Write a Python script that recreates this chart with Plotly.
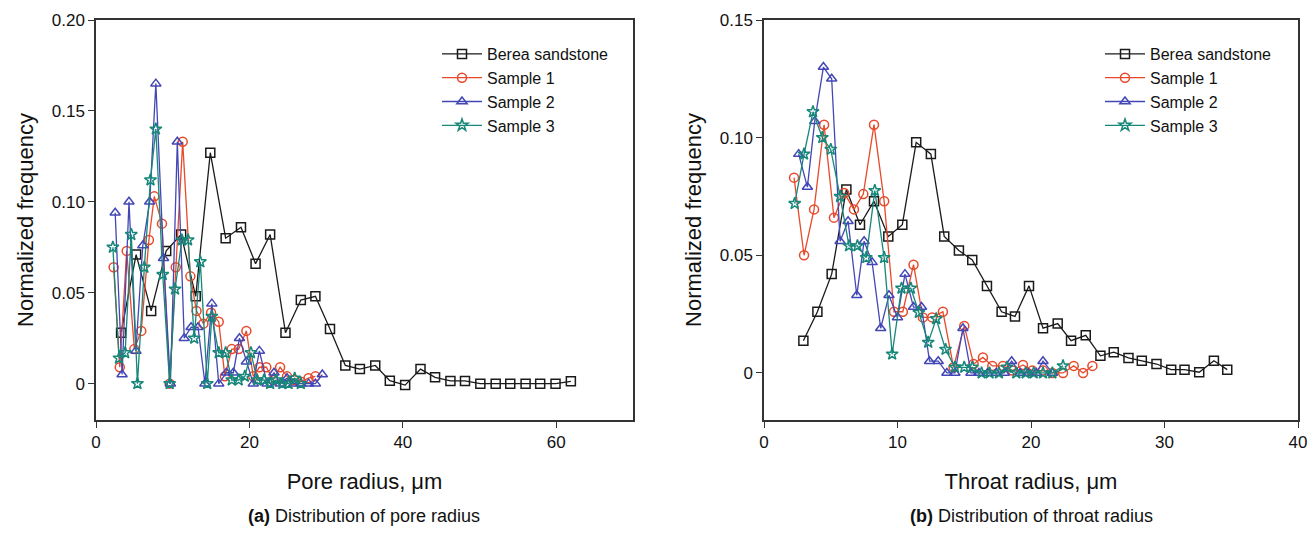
import plotly.graph_objects as go

# ---------------- (a) pore radius ----------------
pore_berea_x = [3.27, 5.23, 7.19, 9.15, 11.1, 13.0, 14.9, 16.9, 18.9, 20.8, 22.7, 24.7, 26.7, 28.6, 30.5,
                32.5, 34.4, 36.4, 38.3, 40.3, 42.3, 44.2, 46.2, 48.1, 50.1, 52.1, 54.0, 56.0, 57.9, 59.9, 61.9]
pore_berea_y = [0.028, 0.071, 0.040, 0.073, 0.082, 0.048, 0.127, 0.080, 0.086, 0.066, 0.082, 0.028, 0.046,
                0.048, 0.030, 0.010, 0.008, 0.010, 0.0016, -0.0008, 0.008, 0.0035, 0.0015, 0.0015, 0.0,
                0.0, 0.0, 0.0, 0.0, 0.0, 0.0013]

pore_s1_x = [2.3, 3.1, 4.0, 5.0, 5.9, 6.9, 7.6, 8.6, 9.6, 10.4, 11.3, 12.3, 13.1, 14.0, 15.0, 16.0, 16.8,
             17.7, 18.6, 19.6, 20.5, 21.3, 22.2, 23.1, 24.0, 24.9, 25.8, 26.7, 27.7, 28.6]
pore_s1_y = [0.064, 0.009, 0.073, 0.019, 0.029, 0.079, 0.103, 0.088, 0.0, 0.064, 0.133, 0.059, 0.040,
             0.033, 0.039, 0.034, 0.004, 0.019, 0.019, 0.029, 0.004, 0.009, 0.009, 0.002, 0.009, 0.004,
             0.002, 0.001, 0.003, 0.004]

pore_s2_x = [2.5, 3.4, 4.3, 5.2, 6.1, 7.0, 7.8, 8.8, 9.7, 10.6, 11.5, 12.4, 13.3, 14.2, 15.1, 16.0, 17.0,
             17.9, 18.7, 19.6, 20.5, 21.3, 22.3, 23.2, 24.0, 24.9, 25.8, 26.7, 27.7, 28.6, 29.5]
pore_s2_y = [0.094, 0.005, 0.100, 0.018, 0.076, 0.100, 0.165, 0.069, 0.0, 0.133, 0.025, 0.031, 0.031,
             0.0, 0.044, 0.0, 0.006, 0.006, 0.025, 0.012, 0.0, 0.018, 0.0, 0.006, 0.0, 0.003, 0.0, 0.0,
             0.0, 0.0, 0.005]

pore_s3_x = [2.2, 3.0, 3.8, 4.6, 5.4, 6.3, 7.1, 7.8, 8.7, 9.6, 10.3, 11.2, 12.0, 12.8, 13.6, 14.5, 15.1,
             16.0, 16.9, 17.7, 18.6, 19.4, 20.2, 21.0, 21.9, 22.7, 23.5, 24.3, 25.1, 25.9, 26.7]
pore_s3_y = [0.075, 0.014, 0.017, 0.082, 0.0, 0.064, 0.112, 0.140, 0.060, 0.0, 0.052, 0.079, 0.079,
             0.025, 0.067, 0.0, 0.037, 0.017, 0.017, 0.002, 0.002, 0.004, 0.017, 0.002, 0.002, 0.0,
             0.002, 0.0, 0.0, 0.003, 0.0]

# ---------------- (b) throat radius ----------------
thr_berea_x = [2.95, 4.0, 5.07, 6.17, 7.19, 8.24, 9.31, 10.36, 11.4, 12.5, 13.5, 14.6, 15.6, 16.7, 17.8,
               18.8, 19.85, 20.9, 22.0, 23.0, 24.1, 25.2, 26.2, 27.3, 28.3, 29.4, 30.5, 31.5, 32.6, 33.7, 34.7]
thr_berea_y = [0.0137, 0.026, 0.042, 0.078, 0.063, 0.073, 0.058, 0.063, 0.098, 0.093, 0.058, 0.052, 0.048,
               0.037, 0.026, 0.024, 0.037, 0.019, 0.021, 0.0137, 0.016, 0.0073, 0.0088, 0.0064, 0.0052,
               0.0038, 0.0014, 0.0014, 0.0003, 0.0052, 0.0014]

thr_s1_x = [2.25, 3.0, 3.75, 4.5, 5.24, 6.0, 6.74, 7.44, 8.24, 9.0, 9.74, 10.4, 11.2, 11.9, 12.6, 13.4,
            14.2, 15.0, 15.7, 16.4, 17.1, 17.9, 18.6, 19.4, 20.1, 20.9, 21.6, 22.4, 23.2, 23.9, 24.6]
thr_s1_y = [0.083, 0.050, 0.0695, 0.1055, 0.066, 0.0765, 0.0695, 0.076, 0.1055, 0.073, 0.026, 0.026,
            0.046, 0.0236, 0.0236, 0.026, 0.0024, 0.020, 0.0038, 0.0066, 0.003, 0.003, 0.001, 0.0034,
            0.001, 0.001, 0.0, 0.0, 0.003, 0.0, 0.003]

thr_s2_x = [2.6, 3.25, 3.8, 4.45, 5.07, 5.7, 6.3, 6.95, 7.5, 8.1, 8.74, 9.36, 10.0, 10.56, 11.2, 11.8,
            12.4, 13.05, 13.7, 14.3, 14.9, 15.5, 16.1, 16.75, 17.4, 18.0, 18.55, 19.2, 19.8, 20.4, 20.9, 21.6]
thr_s2_y = [0.093, 0.079, 0.107, 0.130, 0.125, 0.056, 0.0645, 0.033, 0.056, 0.047, 0.019, 0.033, 0.0236,
            0.042, 0.028, 0.028, 0.005, 0.005, 0.0, 0.0, 0.019, 0.0, 0.0, 0.0, 0.0, 0.0, 0.005, 0.0, 0.0,
            0.0, 0.005, 0.0]

thr_s3_x = [2.3, 3.0, 3.67, 4.37, 5.0, 5.7, 6.37, 7.0, 7.66, 8.3, 9.0, 9.6, 10.3, 11.0, 11.6, 12.3, 12.9,
            13.6, 14.3, 15.0, 15.6, 16.3, 16.9, 17.6, 18.2, 18.9, 19.6, 20.2, 20.9, 21.6, 22.4]
thr_s3_y = [0.072, 0.093, 0.111, 0.100, 0.095, 0.075, 0.054, 0.054, 0.049, 0.0775, 0.049, 0.008, 0.036,
            0.036, 0.0257, 0.013, 0.023, 0.010, 0.0024, 0.0024, 0.0024, 0.0, 0.0, 0.0, 0.0024, 0.0, 0.0,
            0.0, 0.0, 0.0, 0.003]

series_names = ["Berea sandstone", "Sample 1", "Sample 2", "Sample 3"]
y_tick_vals_a = [0, 0.05, 0.10, 0.15, 0.20]
y_tick_text_a = ["0", "0.05", "0.10", "0.15", "0.20"]
y_tick_vals_b = [0, 0.05, 0.10, 0.15]
y_tick_text_b = ["0", "0.05", "0.10", "0.15"]
x_tick_vals_a = [0, 20, 40, 60]
x_tick_vals_b = [0, 10, 20, 30, 40]

colors = ["#1a1a1a", "#e8492b", "#4347b5", "#17877a"]
symbols = ["square-open", "circle-open", "triangle-up-open", "star-open"]
FONT = "Arial, Liberation Sans, sans-serif"

fig = go.Figure()

pore_sets = [(pore_berea_x, pore_berea_y), (pore_s1_x, pore_s1_y), (pore_s2_x, pore_s2_y), (pore_s3_x, pore_s3_y)]
thr_sets = [(thr_berea_x, thr_berea_y), (thr_s1_x, thr_s1_y), (thr_s2_x, thr_s2_y), (thr_s3_x, thr_s3_y)]

for i, (xs, ys) in enumerate(pore_sets):
    fig.add_trace(go.Scatter(x=xs, y=ys, mode="lines+markers", name=series_names[i],
                             line=dict(color=colors[i], width=1.3),
                             marker=dict(symbol=symbols[i], size=9, color=colors[i], line=dict(width=1.5)),
                             xaxis="x", yaxis="y", legend="legend"))
for i, (xs, ys) in enumerate(thr_sets):
    fig.add_trace(go.Scatter(x=xs, y=ys, mode="lines+markers", name=series_names[i],
                             line=dict(color=colors[i], width=1.3),
                             marker=dict(symbol=symbols[i], size=9, color=colors[i], line=dict(width=1.5)),
                             xaxis="x2", yaxis="y2", legend="legend2"))

# body margin is removed by the post script, so the figure fills the 1307x535 window exactly
W, H = 1307, 535
def px(v): return v / W
def py(v): return 1 - v / H

axis_common = dict(showline=True, linecolor="#333", linewidth=1.5, mirror=True, ticks="outside",
                   ticklen=6, tickcolor="#333", showgrid=False, zeroline=False, automargin=False,
                   ticklabeloverflow="allow",
                   tickfont=dict(size=17, color="#111", family=FONT))

fig.update_layout(
    width=W, height=H, plot_bgcolor="white", paper_bgcolor="white",
    margin=dict(l=0, r=0, t=0, b=0, autoexpand=False),
    font=dict(family=FONT, color="#111"),
    xaxis=dict(domain=[px(96), px(633)], range=[0, 70], tickvals=x_tick_vals_a, anchor="y",
               title=dict(text="Pore radius, μm", font=dict(size=22), standoff=22), **axis_common),
    yaxis=dict(domain=[py(420), py(20)], range=[-0.02, 0.20], tickvals=y_tick_vals_a, ticktext=y_tick_text_a,
               anchor="x", title=dict(text="Normalized frequency", font=dict(size=22), standoff=12), **axis_common),
    xaxis2=dict(domain=[px(764), px(1298)], range=[0, 40], tickvals=x_tick_vals_b, anchor="y2",
                title=dict(text="Throat radius, μm", font=dict(size=22), standoff=22), **axis_common),
    yaxis2=dict(domain=[py(420), py(20)], range=[-0.02, 0.15], tickvals=y_tick_vals_b, ticktext=y_tick_text_b,
                anchor="x2", title=dict(text="Normalized frequency", font=dict(size=22), standoff=12), **axis_common),
    legend=dict(x=px(437), y=py(37), xanchor="left", yanchor="top", bgcolor="rgba(0,0,0,0)",
                font=dict(size=16, family=FONT), itemwidth=40, tracegroupgap=0),
    legend2=dict(x=px(1100), y=py(37), xanchor="left", yanchor="top", bgcolor="rgba(0,0,0,0)",
                 font=dict(size=16, family=FONT), itemwidth=40, tracegroupgap=0),
    annotations=[
        dict(text="<b>(a)</b> Distribution of pore radius", x=px(364), y=py(516), xref="paper", yref="paper",
             showarrow=False, font=dict(size=18, family=FONT, color="#111"), xanchor="center", yanchor="middle"),
        dict(text="<b>(b)</b> Distribution of throat radius", x=px(1031), y=py(516), xref="paper", yref="paper",
             showarrow=False, font=dict(size=18, family=FONT, color="#111"), xanchor="center", yanchor="middle"),
    ],
)

fig.write_html("out.html", config={"displayModeBar": False},
               post_script="document.body.style.margin='0';document.body.style.overflow='hidden';")
